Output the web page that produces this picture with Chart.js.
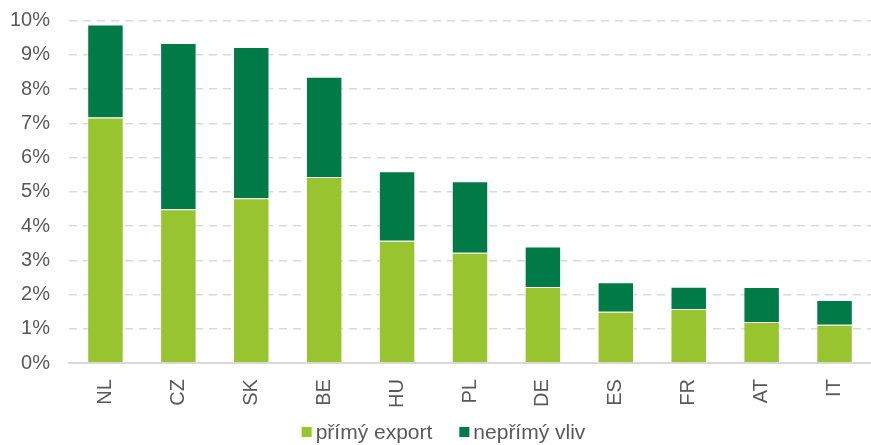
<!DOCTYPE html>
<html>
<head>
<meta charset="utf-8">
<script src="https://cdn.jsdelivr.net/npm/chart.js@4"></script>
<style>
  html, body { margin: 0; padding: 0; background: #fff; }
  #wrap { width: 871px; height: 445px; position: relative; }
</style>
</head>
<body>
<div id="wrap"><canvas id="chart"></canvas></div>
<script>
// ── Data ──
const countries = ['NL', 'CZ', 'SK', 'BE', 'HU', 'PL', 'DE', 'ES', 'FR', 'AT', 'IT'];
const directExport = [7.17, 4.49, 4.81, 5.43, 3.57, 3.22, 2.22, 1.50, 1.58, 1.20, 1.12];
const indirectEffect = [2.71, 4.85, 4.42, 2.93, 2.03, 2.09, 1.18, 0.86, 0.65, 1.02, 0.72];
const yTicks = [0, 1, 2, 3, 4, 5, 6, 7, 8, 9, 10];

const LIGHT = '#97c42f';
const DARK = '#007a47';
const TEXT = '#595959';
const FONT = "'Liberation Sans', Arial, sans-serif";
const FONT_SIZE = 20;

Chart.defaults.font.family = FONT;
Chart.defaults.color = TEXT;

// ── Compact bottom legend (box close to text, like the original) ──
const bottomLegend = {
  id: 'bottomLegend',
  afterDraw(chart) {
    const ctx = chart.ctx;
    const sets = chart.data.datasets;
    const box = 10, gap = 4, itemGap = 27;
    ctx.save();
    ctx.font = `21px ${FONT}`;
    ctx.textBaseline = 'middle';
    const widths = sets.map(ds => box + gap + ctx.measureText(ds.label).width);
    const total = widths.reduce((s, w) => s + w, 0) + itemGap * (sets.length - 1);
    let x = chart.width / 2 + 8 - total / 2;
    const y = 433;
    sets.forEach((ds, i) => {
      ctx.fillStyle = ds.backgroundColor;
      ctx.fillRect(x, y - box / 2 - 1, box, box);
      ctx.fillStyle = TEXT;
      ctx.fillText(ds.label, x + box + gap, y);
      x += widths[i] + itemGap;
    });
    ctx.restore();
  }
};

new Chart(document.getElementById('chart'), {
  type: 'bar',
  data: {
    labels: countries,
    datasets: [
      {
        label: 'přímý export',
        data: directExport,
        backgroundColor: LIGHT,
        borderColor: 'rgba(255,255,255,0.6)',
        borderWidth: 1,
        borderSkipped: 'bottom',
        barPercentage: 0.5,
        categoryPercentage: 1,
      },
      {
        label: 'nepřímý vliv',
        data: indirectEffect,
        backgroundColor: DARK,
        borderColor: 'rgba(255,255,255,0.6)',
        borderWidth: 1,
        borderSkipped: 'bottom',
        barPercentage: 0.5,
        categoryPercentage: 1,
      }
    ]
  },
  options: {
    responsive: true,
    maintainAspectRatio: false,
    animation: false,
    layout: { autoPadding: false, padding: { top: 20.5, right: 0, left: 0, bottom: 29 } },
    plugins: {
      legend: { display: false },
      tooltip: { enabled: false }
    },
    scales: {
      x: {
        stacked: true,
        grid: { display: false },
        border: { display: true, color: '#d9d9d9', width: 2 },
        ticks: {
          font: { size: FONT_SIZE },
          color: TEXT,
          minRotation: 90,
          maxRotation: 90,
          padding: 8,
        },
        afterFit: axis => { axis.paddingLeft = 0; axis.paddingRight = 0; }
      },
      y: {
        stacked: true,
        min: 0,
        max: 10,
        afterBuildTicks: axis => { axis.ticks = yTicks.map(v => ({ value: v })); },
        afterFit: axis => { axis.width = 69; axis.paddingTop = 0; axis.paddingBottom = 0; },
        border: { display: false, dash: [8, 6] },
        grid: { color: '#d9d9d9', lineWidth: 1.5, drawTicks: false },
        ticks: {
          font: { size: FONT_SIZE },
          color: TEXT,
          padding: 19,
          callback: v => v + '%'
        }
      }
    }
  },
  plugins: [bottomLegend]
});
</script>
</body>
</html>
